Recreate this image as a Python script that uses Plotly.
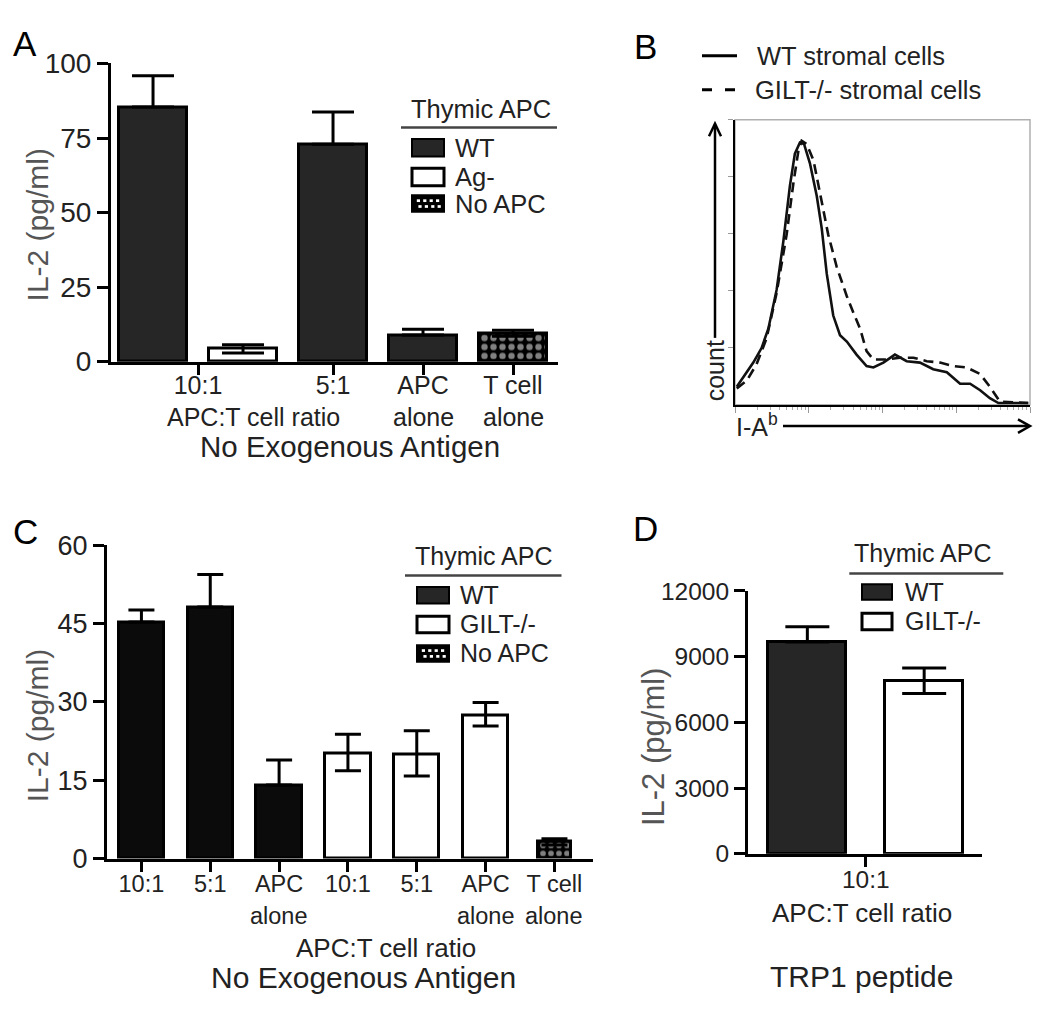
import math
import plotly.graph_objects as go

# ---------------- DATA ----------------
# Panel A: IL-2 (pg/ml), no exogenous antigen
A_ticks = ["10:1", "5:1", "APC", "T cell"]
A_groups = ["WT", "Ag-", "WT", "WT", "No APC"]
A_values = [85.4, 4.3, 72.9, 8.9, 9.5]
A_err_up = [10.5, 1.4, 10.8, 2.0, 1.0]
A_err_down = [0.0, 1.4, 0.0, 0.0, 1.0]

# Panel B: flow cytometry histogram (I-Ab), x in % of log axis, y in % of max
B_x_wt = [0.6, 2.8, 6.2, 9.0, 11.3, 14.1, 16.4, 18.6, 20.3, 22.0, 23.4, 25.4, 27.7, 29.4, 31.1,
          33.3, 35.6, 37.9, 41.2, 44.6, 46.9, 50.3, 54.2, 58.2, 62.7, 67.2, 71.8, 76.3, 79.7,
          83.1, 86.4, 89.3, 92.1, 99.4]
B_wt = [6.3, 9.7, 14.8, 19.9, 26.7, 40.3, 57.4, 76.7, 88.1, 92.0, 91.5, 84.7, 73.3, 61.9, 46.0,
        31.3, 24.4, 22.2, 17.6, 13.6, 13.1, 14.8, 17.6, 15.3, 14.8, 12.5, 11.4, 7.4, 7.4,
        5.1, 2.3, 0.6, 0.6, 0.6]
B_x_gilt = [0.6, 4.0, 7.3, 10.7, 14.1, 17.5, 19.8, 21.5, 22.6, 24.3, 26.6, 28.8, 31.6, 34.5,
            37.9, 40.1, 42.4, 44.6, 46.9, 51.4, 55.9, 60.5, 65.0, 69.5, 74.0, 78.5, 83.1,
            86.4, 89.8, 99.4]
B_gilt = [5.7, 8.5, 14.2, 23.3, 39.2, 59.7, 77.8, 89.2, 92.6, 91.5, 85.8, 74.4, 59.7, 48.3,
          38.1, 32.4, 26.7, 18.8, 15.9, 15.9, 16.5, 16.5, 15.3, 14.8, 13.6, 13.1, 10.8,
          6.3, 1.1, 0.6]

# Panel C
C_ticks = ["10:1", "5:1", "APC", "10:1", "5:1", "APC", "T cell"]
C_groups = ["WT", "WT", "WT", "GILT-/-", "GILT-/-", "GILT-/-", "No APC"]
C_values = [45.3, 48.2, 14.1, 20.1, 19.9, 27.5, 3.2]
C_err_up = [2.3, 6.2, 4.8, 3.7, 4.6, 2.4, 0.6]
C_err_down = [0.0, 0.0, 0.0, 3.3, 4.1, 2.1, 0.6]

# Panel D
D_ticks = ["10:1"]
D_groups = ["WT", "GILT-/-"]
D_values = [9670, 7900]
D_err_up = [690, 580]
D_err_down = [0, 580]

# ---------------- HELPERS ----------------
W, H = 1050, 1020
FONT = "Liberation Sans, Arial, sans-serif"
TXT = "#222222"
GREY = "#555555"


def fx(x):
    return x / W


def fy(y):
    return 1 - y / H


annotations = []
shapes = []


def text(s, x, y, size, color=TXT, xanchor="center", angle=0, xref="paper"):
    annotations.append(dict(
        text=s, x=(x if xref != "paper" else fx(x)), y=fy(y), xref=xref, yref="paper",
        showarrow=False, xanchor=xanchor, yanchor="middle", textangle=angle,
        font=dict(family=FONT, size=size, color=color)))


def rect(x0, y0, x1, y1, fill, line="black", lw=2.5):
    shapes.append(dict(type="rect", xref="paper", yref="paper",
                       x0=fx(x0), x1=fx(x1), y0=fy(y0), y1=fy(y1),
                       fillcolor=fill, line=dict(color=line, width=lw)))


def pline(x0, y0, x1, y1, color="black", lw=2.5, dash=None):
    ln = dict(color=color, width=lw)
    if dash:
        ln["dash"] = dash
    shapes.append(dict(type="line", xref="paper", yref="paper",
                       x0=fx(x0), x1=fx(x1), y0=fy(y0), y1=fy(y1), line=ln))


def path(pts, color="black", lw=2.5):
    d = "M " + " L ".join(f"{fx(x):.5f},{fy(y):.5f}" for x, y in pts)
    shapes.append(dict(type="path", xref="paper", yref="paper", path=d,
                       line=dict(color=color, width=lw)))


def checker_swatch(x0, y0, x1, y1):
    rect(x0, y0, x1, y1, "black", "black", 2)
    n = 4
    step = (x1 - x0) / (n + 1)
    for i in range(n):
        cx = x0 + step * (i + 1)
        for dy in (-3, 3):
            cy = (y0 + y1) / 2 + dy
            off = 1.6 if dy > 0 else 0
            shapes.append(dict(type="rect", xref="paper", yref="paper",
                               x0=fx(cx - 1.6 + off), x1=fx(cx + 1.6 + off),
                               y0=fy(cy - 1.4), y1=fy(cy + 1.4),
                               fillcolor="white", line=dict(width=0)))


def legend(title, tx, ty, lx0, lx1, ly, sx0, sx1, textx, items, size):
    text(title, tx, ty, size)
    pline(lx0, ly, lx1, ly, "#444444", 2.5)
    for label, y0, y1, kind in items:
        if kind == "dark":
            rect(sx0, y0, sx1, y1, "#262626", "black", 2)
        elif kind == "open":
            rect(sx0, y0, sx1, y1, "white", "black", 3)
        else:
            checker_swatch(sx0, y0, sx1, y1)
        text(label, textx, (y0 + y1) / 2, size, xanchor="left")


def bar_style(groups, dark):
    fill, shape = [], []
    for g in groups:
        if g == "WT":
            fill.append(dark); shape.append("")
        elif g == "No APC":
            fill.append("black"); shape.append(".")
        else:
            fill.append("white"); shape.append("")
    return fill, shape


fig = go.Figure()

# ---------------- PANEL A ----------------
fillA, shapeA = bar_style(A_groups, "#262626")
fig.add_trace(go.Bar(
    x=list(range(len(A_values))), y=A_values, width=0.765,
    marker=dict(color=fillA, line=dict(color="black", width=3),
                pattern=dict(shape=shapeA, fgcolor="white", bgcolor="black", size=9, solidity=0.4)),
    error_y=dict(type="data", symmetric=False, array=A_err_up, arrayminus=A_err_down,
                 color="black", thickness=3, width=21),
    xaxis="x", yaxis="y", showlegend=False, hoverinfo="skip"))

# ---------------- PANEL B ----------------
fig.add_trace(go.Scatter(x=B_x_gilt, y=B_gilt, mode="lines",
                         line=dict(color="#111111", width=2.6, dash="10px,6px"),
                         xaxis="x2", yaxis="y2", showlegend=False, hoverinfo="skip"))
fig.add_trace(go.Scatter(x=B_x_wt, y=B_wt, mode="lines",
                         line=dict(color="#111111", width=2.6),
                         xaxis="x2", yaxis="y2", showlegend=False, hoverinfo="skip"))

# ---------------- PANEL C ----------------
fillC, shapeC = bar_style(C_groups, "#0b0b0b")
C_width = [0.66] * (len(C_values) - 1) + [0.48]
fig.add_trace(go.Bar(
    x=list(range(len(C_values))), y=C_values, width=C_width,
    marker=dict(color=fillC, line=dict(color="black", width=3),
                pattern=dict(shape=shapeC, fgcolor="white", bgcolor="black", size=8, solidity=0.4)),
    error_y=dict(type="data", symmetric=False, array=C_err_up, arrayminus=C_err_down,
                 color="black", thickness=3, width=13),
    xaxis="x3", yaxis="y3", showlegend=False, hoverinfo="skip"))

# ---------------- PANEL D ----------------
fillD, shapeD = bar_style(D_groups, "#262626")
fig.add_trace(go.Bar(
    x=list(range(len(D_values))), y=D_values, width=0.67,
    marker=dict(color=fillD, line=dict(color="black", width=3)),
    error_y=dict(type="data", symmetric=False, array=D_err_up, arrayminus=D_err_down,
                 color="black", thickness=3, width=22),
    xaxis="x4", yaxis="y4", showlegend=False, hoverinfo="skip"))


# ---------------- AXES ----------------
def bar_xaxis(dom, rng, tickvals, ticktext, size, standoff, anchor):
    return dict(domain=[fx(dom[0]), fx(dom[1])], range=rng, showline=True, linecolor="black",
                linewidth=3, ticks="outside", ticklen=10, tickwidth=3, tickcolor="black",
                tickvals=tickvals, ticktext=ticktext, showgrid=False, zeroline=False,
                tickfont=dict(family=FONT, size=size, color=TXT), ticklabelstandoff=standoff,
                anchor=anchor)


def bar_yaxis(dom, rng, tickvals, size, anchor):
    return dict(domain=[fy(dom[1]), fy(dom[0])], range=rng, showline=True, linecolor="black",
                linewidth=3, ticks="outside", ticklen=11, tickwidth=3, tickcolor="black",
                tickvals=tickvals, showgrid=False, zeroline=False, anchor=anchor,
                tickformat="d", tickfont=dict(family=FONT, size=size, color=TXT))


minor_b = [25 * (d + math.log10(k)) for d in range(4) for k in range(2, 10)]

layout = dict(
    width=W, height=H, margin=dict(l=0, r=0, t=0, b=0),
    paper_bgcolor="white", plot_bgcolor="rgba(0,0,0,0)",
    bargap=0, font=dict(family=FONT, color=TXT),
    xaxis=bar_xaxis((111, 558), [-0.467, 4.5], [0.5, 2, 3, 4], A_ticks, 25, -11, "y"),
    yaxis=bar_yaxis((50, 357.5), [0, 100], [0, 25, 50, 75, 100], 28, "x"),
    xaxis2=dict(domain=[fx(735), fx(1030)], range=[0, 100], showline=True, linecolor="black",
                linewidth=2, ticks="outside", ticklen=6, tickwidth=1, tickcolor="#999999",
                tickvals=[0, 25, 50, 75, 100], showticklabels=False, showgrid=False, zeroline=False,
                anchor="y2",
                minor=dict(tickvals=minor_b, ticks="outside", ticklen=3, tickcolor="#aaaaaa",
                           showgrid=False)),
    yaxis2=dict(domain=[fy(402), fy(108)], range=[0, 100], showline=True, linecolor="black",
                linewidth=2, ticks="outside", ticklen=5, tickwidth=1, tickcolor="#999999",
                tickvals=[20, 40, 60, 80, 100], showticklabels=False, showgrid=False,
                zeroline=False, anchor="x2"),
    xaxis3=bar_xaxis((107, 593), [-0.5, 6.56], list(range(len(C_ticks))), C_ticks, 23.5, -8, "y3"),
    yaxis3=bar_yaxis((547, 870), [0, 60], [0, 15, 30, 45, 60], 27, "x3"),
    xaxis4=bar_xaxis((748, 982), [-0.508, 1.495], [0.5], D_ticks, 24.5, -8, "y4"),
    yaxis4=bar_yaxis((594, 865), [0, 12000], [0, 3000, 6000, 9000, 12000], 24.5, "x4"),
)

# grey frame for flow plot (top/right)
shapes.append(dict(type="rect", xref="x2 domain", yref="y2 domain", x0=0, x1=1, y0=0, y1=1,
                   line=dict(color="#b0b0b0", width=1.5), layer="below"))

# ---------------- TEXT / DECORATION ----------------
# Panel letters
text("A", 25, 29, 35, "black")
text("B", 645, 32, 35, "black")
text("C", 25, 533, 35, "black")
text("D", 645, 530, 35, "black")

# Panel A
text("IL-2 (pg/ml)", 37, 217, 30, GREY, angle=-90)
text("alone", 3, 415, 25, xref="x")
text("alone", 4, 415, 25, xref="x")
text("APC:T cell ratio", 253.5, 415, 25)
text("No Exogenous Antigen", 349.6, 445, 29.5)
legend("Thymic APC", 481, 97, 401, 557, 116, 412, 444, 453,
       [("WT", 128, 146, "dark"), ("Ag-", 158, 176, "open"), ("No APC", 186, 203, "check")], 25.5)

# Panel B
pline(702, 42, 737, 42, "black", 3)
pline(702, 77, 737, 77, "black", 3, dash="10px,13px")
text("WT stromal cells", 755, 42, 25.5, xanchor="left")
text("GILT-/- stromal cells", 753, 77, 25.5, xanchor="left")
pline(715, 333, 715, 113, "black", 2.5)
path([(709, 125), (715, 112), (721, 125)], "black", 2.5)
text("count", 715, 367.5, 25, angle=-90)
pline(783, 424, 1029, 424, "black", 2.5)
path([(1018, 417), (1030, 424), (1018, 431)], "black", 2.5)
text("I-A<sup>b</sup>", 756.5, 423, 25)

# Panel C
text("IL-2 (pg/ml)", 37.5, 733, 30, GREY, angle=-90)
for i in (2, 5, 6):
    text("alone", i, 929, 23.5, xref="x3")
text("APC:T cell ratio", 386, 962, 26)
text("No Exogenous Antigen", 363, 993, 30)
legend("Thymic APC", 484, 558, 405, 561.5, 578, 417, 449, 458,
       [("WT", 590, 607, "dark"), ("GILT-/-", 620, 637, "open"), ("No APC", 650, 667, "check")], 25)

# Panel D
text("IL-2 (pg/ml)", 653, 755, 31, GREY, angle=-90)
text("APC:T cell ratio", 861.7, 926, 26)
text("TRP1 peptide", 861.7, 992, 30)
legend("Thymic APC", 923.3, 555, 849.3, 1003.3, 576, 862, 892, 903.3,
       [("WT", 587, 603, "dark"), ("GILT-/-", 617, 634, "open")], 25)

layout["annotations"] = annotations
layout["shapes"] = shapes
fig.update_layout(**layout)

fig.write_html("out.html", config={"displayModeBar": False},
               post_script="document.body.style.margin='0';document.body.style.overflow='hidden';")
